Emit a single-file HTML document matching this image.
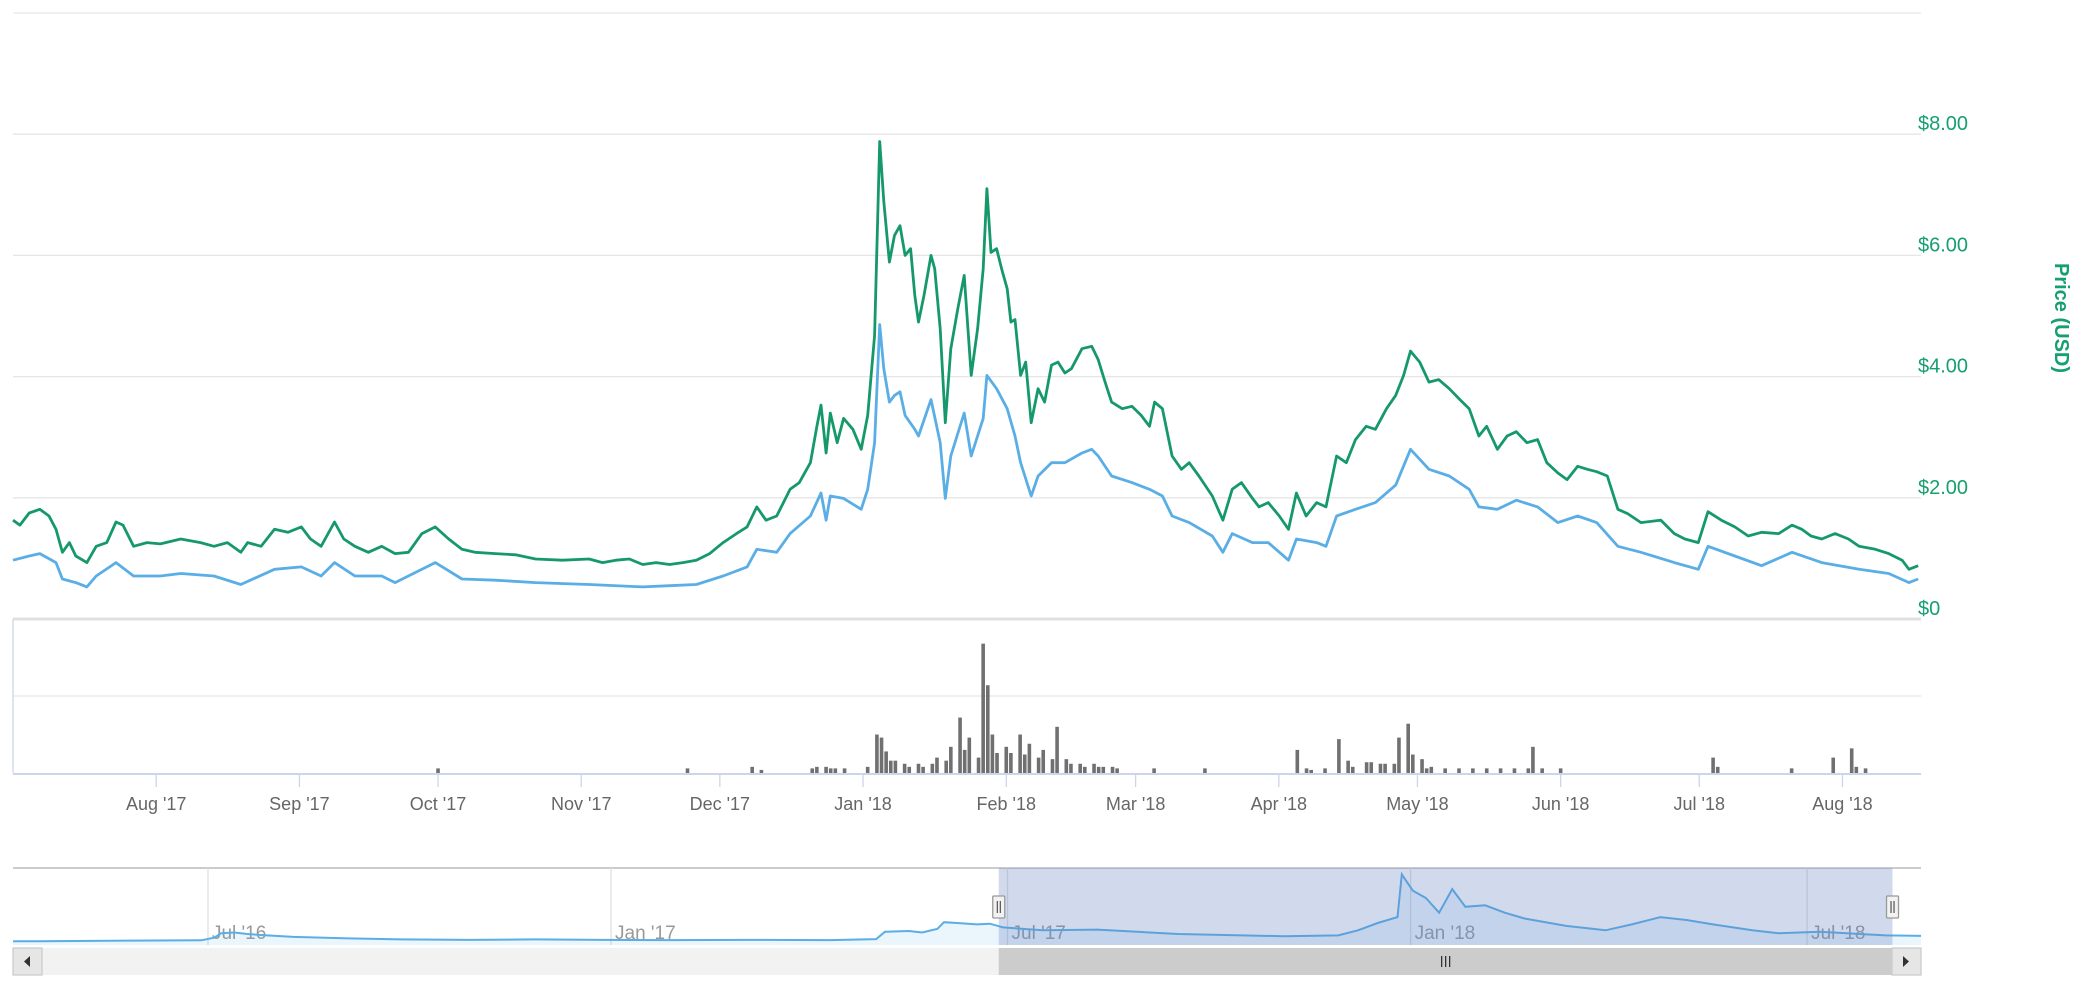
<!DOCTYPE html>
<html><head><meta charset="utf-8"><style>
html,body{margin:0;padding:0;background:#fff;}
svg{display:block;font-family:"Liberation Sans",sans-serif;}
</style></head><body>
<svg id="chart" width="2100" height="1006" viewBox="0 0 2100 1006" xmlns="http://www.w3.org/2000/svg">
<g id="grid"></g>
<g id="vol"></g>
<g id="lines"></g>
<g id="axes"></g>
<g id="nav"></g>
</svg>
<script>
// ---- data (days since 2017-07-01) ----
const greenDays=[0,1.5,3.5,5.8,7.8,9.3,10.7,12.2,13.6,16,18,20.3,22.3,23.8,26.1,29,31.9,36.3,40.6,43.5,46.4,49.3,50.8,53.7,56.6,59.5,62.4,64.4,66.7,69.6,71.6,74,76.9,79.8,82.7,85.6,88.5,91.4,94.3,97.2,100,104.4,108.8,113.1,118.9,124.7,127.6,130.5,133.4,136.3,139.2,142.1,145,147.9,150.8,153.7,156.6,158.9,161,163,165.3,168.2,170.2,172.6,174,174.9,176,176.9,178.4,179.8,181.8,183.6,185,186.5,187.6,188.5,189.7,190.8,192,193.1,194.3,195.2,196,197.2,198.7,199.5,200.7,201.8,203,204.5,205.9,207.4,208.8,210,210.8,211.7,212.9,214,215.2,216,216.9,218.1,219.2,220.4,221.9,223.3,224.8,226.2,227.7,229.1,231.4,233.5,234.9,236.4,237.8,240.1,242.2,244.2,246,247.1,248.8,250.9,252.9,254.6,256.7,259.6,261.9,263.9,265.9,268.3,269.7,271.7,274.1,276.1,277.8,279.9,282.2,284.2,286.5,288.6,290.6,292.9,294.9,297.3,299.3,301,302.5,304.5,306.5,308.6,310.9,313.2,315.2,317.3,319,321.3,323.4,325.4,327.7,330,332,334.4,336.4,338.7,340.8,342.8,345.1,347.4,349.5,352.4,356.7,359.6,361.9,364.8,366.9,369.8,372.7,375.6,378.5,382.2,385.1,387.2,389.2,391.5,394.4,397.3,399.6,403.1,406,408.9,410.4,412.4];
const greenValues=[1.63,1.55,1.75,1.81,1.7,1.48,1.1,1.26,1.04,0.93,1.2,1.26,1.6,1.55,1.2,1.26,1.24,1.32,1.26,1.2,1.26,1.1,1.26,1.2,1.48,1.43,1.52,1.32,1.2,1.6,1.32,1.2,1.1,1.2,1.08,1.1,1.41,1.52,1.32,1.15,1.1,1.08,1.06,0.99,0.97,0.99,0.93,0.97,0.99,0.9,0.93,0.9,0.93,0.97,1.08,1.26,1.41,1.52,1.85,1.63,1.7,2.14,2.25,2.58,3.18,3.53,2.74,3.4,2.91,3.31,3.13,2.8,3.36,4.68,7.88,6.89,5.89,6.33,6.49,6.0,6.11,5.34,4.9,5.34,6.0,5.78,4.79,3.24,4.46,5.12,5.67,4.02,4.79,5.78,7.1,6.05,6.11,5.78,5.45,4.9,4.94,4.02,4.24,3.24,3.8,3.58,4.19,4.24,4.06,4.13,4.46,4.5,4.28,3.91,3.58,3.47,3.51,3.36,3.18,3.58,3.47,2.69,2.47,2.58,2.36,2.03,1.63,2.14,2.25,1.99,1.85,1.92,1.7,1.48,2.08,1.7,1.92,1.85,2.69,2.58,2.96,3.18,3.13,3.47,3.69,4.02,4.42,4.24,3.91,3.95,3.8,3.62,3.47,3.02,3.18,2.8,3.02,3.09,2.91,2.96,2.58,2.41,2.3,2.52,2.47,2.43,2.36,1.81,1.74,1.59,1.63,1.41,1.32,1.26,1.77,1.63,1.52,1.37,1.43,1.41,1.55,1.48,1.37,1.32,1.41,1.32,1.2,1.15,1.08,0.97,0.82,0.88];
const blueDays=[0,3.5,5.8,9.3,10.7,13.6,16,18,22.3,26.1,31.9,36.3,43.5,49.3,56.6,62.4,66.7,69.6,74,79.8,82.7,88.5,91.4,97.2,104.4,113.1,124.7,136.3,142.1,147.9,153.7,158.9,161,165.3,168.2,172.6,174.9,176,176.9,179.8,183.6,185,186.5,187.6,188.5,189.7,190.8,192,193.1,195.2,196,198.7,200.7,201.8,203,205.9,207.4,210,210.8,212.9,215.2,216.9,218.1,220.4,221.9,224.8,227.7,231.4,233.5,234.9,237.8,242.2,246,248.8,250.9,254.6,259.6,261.9,263.9,268.3,271.7,276.1,277.8,282.2,284.2,286.5,290.6,294.9,299.3,302.5,306.5,310.9,315.2,317.3,321.3,325.4,330,334.4,338.7,342.8,347.4,352.4,359.6,364.8,366.9,372.7,378.5,385.1,391.5,399.6,406,410.4,412.4];
const blueValues=[0.97,1.04,1.08,0.93,0.66,0.6,0.53,0.71,0.93,0.71,0.71,0.75,0.71,0.57,0.82,0.86,0.71,0.93,0.71,0.71,0.6,0.82,0.93,0.66,0.64,0.6,0.57,0.53,0.55,0.57,0.71,0.86,1.15,1.1,1.41,1.7,2.08,1.63,2.03,1.99,1.81,2.14,2.91,4.86,4.13,3.58,3.69,3.75,3.36,3.13,3.02,3.62,2.91,1.99,2.69,3.4,2.69,3.31,4.02,3.8,3.47,3.02,2.58,2.03,2.36,2.58,2.58,2.74,2.8,2.69,2.36,2.25,2.14,2.03,1.7,1.59,1.37,1.1,1.41,1.26,1.26,0.97,1.32,1.26,1.2,1.7,1.81,1.92,2.21,2.8,2.47,2.36,2.14,1.85,1.81,1.96,1.85,1.59,1.7,1.59,1.2,1.1,0.93,0.82,1.2,1.04,0.88,1.1,0.93,0.82,0.75,0.6,0.66];
const volumeDays=[92,146,160,162,173,174,176,177,178,180,185,187,188,189,190,191,193,194,196,197,199,200,202,203,205,206,207,209,210,211,212,213,215,216,218,219,220,222,223,225,226,228,229,231,232,234,235,236,238,239,247,258,278,280,281,284,287,289,290,293,294,296,297,299,300,302,303,305,306,307,310,313,316,319,322,325,328,329,331,335,368,369,385,394,398,399,401];
const volumeValues=[3,3,4,2,3,4,4,3,3,3,4,25,23,14,8,8,6,4,6,4,6,10,8,17,36,15,23,10,84,57,25,13,17,13,25,12,19,10,15,9,30,9,6,6,4,6,4,4,4,3,3,3,15,3,2,3,22,8,4,7,7,6,6,6,23,32,12,9,3,4,3,3,3,3,3,3,3,17,3,3,10,4,3,10,16,4,3];
const priceTicks=[0,2,4,6,8,10];
const priceTickLabels=["$0","$2.00","$4.00","$6.00","$8.00",""];
const monthTickDates=["2017-08-01","2017-09-01","2017-10-01","2017-11-01","2017-12-01","2018-01-01","2018-02-01","2018-03-01","2018-04-01","2018-05-01","2018-06-01","2018-07-01","2018-08-01"];
const monthTickLabels=["Aug '17","Sep '17","Oct '17","Nov '17","Dec '17","Jan '18","Feb '18","Mar '18","Apr '18","May '18","Jun '18","Jul '18","Aug '18"];
// navigator (days since 2016-04-03)
const navDays=[0,12,55,86,92,95,101,107,116,128,153,177,208,238,269,299,336,373,394,398,409,415,422,425,431,440,446,452,470,495,532,580,605,614,623,632,634,639,645,651,657,663,672,681,690,709,727,739,752,764,776,794,806,825,843,855,871];
const navValues=[0.25,0.25,0.3,0.32,0.5,0.8,0.85,0.75,0.65,0.55,0.45,0.38,0.35,0.38,0.35,0.33,0.35,0.33,0.4,0.9,0.95,0.85,1.1,1.55,1.5,1.4,1.45,1.2,1.0,1.05,0.75,0.6,0.65,1.0,1.5,1.9,4.8,3.7,3.2,2.2,3.8,2.6,2.7,2.2,1.8,1.3,1.0,1.4,1.9,1.7,1.4,1.0,0.8,0.9,0.75,0.65,0.62];
const navTickDates=["2016-07-01","2017-01-01","2017-07-01","2018-01-01","2018-07-01"];
const navTickLabels=["Jul '16","Jan '17","Jul '17","Jan '18","Jul '18"];
const navSelection=[450,858];

// ---- axes ----
const NS="http://www.w3.org/2000/svg";
const L=13,R=1921,T=13,B=619,VT=619,VB=773;
const dayMax=413;
const x=d=>L+(d/dayMax)*(R-L);
const y=v=>B-(v/10)*(B-T);
const vy=v=>VB-(v/100)*(VB-VT);
const d0=new Date("2017-07-01T00:00:00Z");
const dayOf=(s,base)=>(new Date(s+"T00:00:00Z")-base)/86400000;
const NL=13,NR=1921,NT=868,NB=945,navMax=871;
const nx=d=>NL+(d/navMax)*(NR-NL);
const ny=v=>NB-v*14.7;
const nb=new Date("2016-04-03T00:00:00Z");
function mk(tag,attrs,parent,text){const e=document.createElementNS(NS,tag);for(const k in attrs)e.setAttribute(k,attrs[k]);if(text!==undefined)e.textContent=text;parent.appendChild(e);return e;}
const grid=document.getElementById('grid'),vol=document.getElementById('vol'),lines=document.getElementById('lines'),axes=document.getElementById('axes'),nav=document.getElementById('nav');

priceTicks.forEach((t,i)=>{
  const g=mk('line',{x1:L,x2:R,y1:y(t),y2:y(t),stroke:i==0?'#e0e0e0':'#e6e6e6','stroke-width':i==0?3:1.3},grid);
  
  
  if(priceTickLabels[i]){
    const tx=mk('text',{x:1918,y:y(t)-4,fill:'#16a06f','font-size':20},axes,priceTickLabels[i]);
    
    
  }
});
const vt=mk('text',{x:2055,y:318,fill:'#16a06f','font-size':20,'font-weight':'bold','text-anchor':'middle',transform:'rotate(90 2055 318)'},axes,'Price (USD)');


// volume panel
const vg=mk('line',{x1:L,x2:R,y1:vy(50),y2:vy(50),stroke:'#e6e6e6','stroke-width':1.3},grid);


const va=mk('line',{x1:L,x2:L,y1:VT,y2:VB,stroke:'#ccd6eb','stroke-width':1.3},axes);


volumeDays.forEach((d,i)=>{
  const r=mk('rect',{x:x(d)-1.8,y:vy(volumeValues[i]),width:3.6,height:VB-vy(volumeValues[i]),fill:'#707070'},vol);
  
  
});
const xa=mk('line',{x1:L,x2:R,y1:VB+1,y2:VB+1,stroke:'#ccd6eb','stroke-width':2},axes);


monthTickDates.forEach((s,i)=>{
  const px=x(dayOf(s,d0));
  const tk=mk('line',{x1:px,x2:px,y1:VB+1,y2:VB+14,stroke:'#ccd6eb','stroke-width':1.3},axes);
  
  
  const lb=mk('text',{x:px,y:810,fill:'#666','font-size':18,'text-anchor':'middle'},axes,monthTickLabels[i]);
  
  
});
function path(days,vals,fx,fy){return days.map((d,i)=>(i?'L':'M')+fx(d).toFixed(1)+' '+fy(vals[i]).toFixed(1)).join(' ');}
const bl=mk('path',{d:path(blueDays,blueValues,x,y),fill:'none',stroke:'#5aaee6','stroke-width':2.8,'stroke-linejoin':'round'},lines);


const gl=mk('path',{d:path(greenDays,greenValues,x,y),fill:'none',stroke:'#16996a','stroke-width':2.8,'stroke-linejoin':'round'},lines);



// ---- navigator ----
const nbg=mk('line',{x1:NL,x2:NR,y1:NT,y2:NT,stroke:'#cccccc','stroke-width':2},nav);


navTickDates.forEach((s,i)=>{
  const px=nx(dayOf(s,nb));
  const gl2=mk('line',{x1:px,x2:px,y1:NT,y2:NB,stroke:'#e0e0e0','stroke-width':1.3},nav);
  
  
  const t=mk('text',{x:px+4,y:939,fill:'#999','font-size':19},nav,navTickLabels[i]);
  
  
});
const nd=path(navDays,navValues,nx,ny);
const na=mk('path',{d:nd+' L'+nx(navDays[navDays.length-1])+' '+NB+' L'+nx(navDays[0])+' '+NB+' Z',fill:'#5aaee6','fill-opacity':0.12},nav);


const nl=mk('path',{d:nd,fill:'none',stroke:'#5aaee6','stroke-width':2},nav);


const s0=nx(navSelection[0]),s1=nx(navSelection[1]);
const sel=mk('rect',{x:s0,y:NT,width:s1-s0,height:NB-NT,fill:'#6685c2','fill-opacity':0.3},nav);


[s0,s1].forEach(hx=>{
  const h=mk('rect',{x:hx-6,y:896,width:12,height:22,fill:'#f2f2f2',stroke:'#999','stroke-width':1.3,rx:1},nav);
  
  
  mk('line',{x1:hx-1.5,x2:hx-1.5,y1:901,y2:913,stroke:'#333','stroke-width':1},nav);
  mk('line',{x1:hx+1.5,x2:hx+1.5,y1:901,y2:913,stroke:'#333','stroke-width':1},nav);
});
// scrollbar
const tr=mk('rect',{x:NL,y:948,width:NR-NL,height:27,fill:'#f2f2f2'},nav);


const th=mk('rect',{x:s0,y:948,width:s1-s0,height:27,fill:'#cccccc'},nav);


const cx=(s0+s1)/2;
[-4,0,4].forEach(o=>mk('line',{x1:cx+o,x2:cx+o,y1:956,y2:967,stroke:'#333','stroke-width':1.3},nav));
const lbtn=mk('rect',{x:NL,y:948,width:29,height:27,fill:'#e6e6e6',stroke:'#ccc','stroke-width':1.3},nav);


mk('path',{d:'M30 956 L24 961.5 L30 967 Z',fill:'#333'},nav);
const rbtn=mk('rect',{x:NR-29,y:948,width:29,height:27,fill:'#e6e6e6',stroke:'#ccc','stroke-width':1.3},nav);


mk('path',{d:'M'+(NR-18)+' 956 L'+(NR-12)+' 961.5 L'+(NR-18)+' 967 Z',fill:'#333'},nav);
</script>
</body></html>
